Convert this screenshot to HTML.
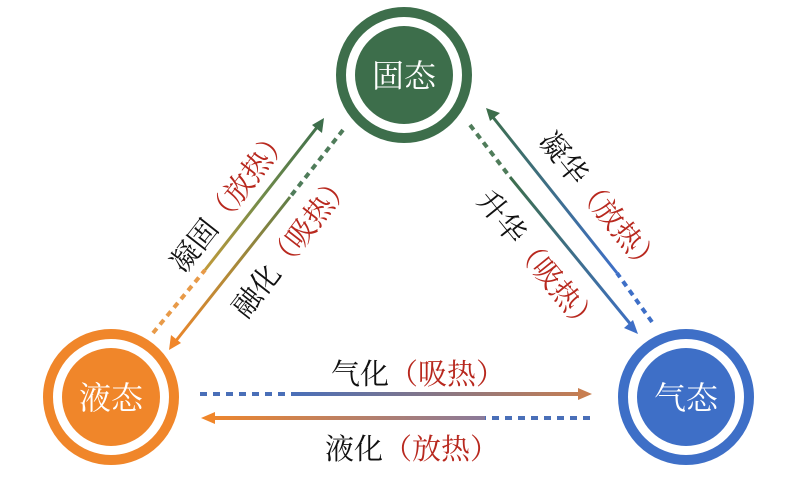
<!DOCTYPE html>
<html><head><meta charset="utf-8"><style>
html,body{margin:0;padding:0;background:#fff;}
svg{display:block;}
text{font-family:"Liberation Serif","Noto Serif CJK SC",serif;}
</style></head><body>
<svg width="797" height="482" viewBox="0 0 797 482" xmlns="http://www.w3.org/2000/svg">
<defs>
<linearGradient id="g1" gradientUnits="userSpaceOnUse" x1="205" y1="270" x2="323" y2="120"><stop offset="0" stop-color="#c09a3a"/><stop offset="0.5" stop-color="#6f8a4a"/><stop offset="1" stop-color="#3d6e4b"/></linearGradient>
<linearGradient id="g2" gradientUnits="userSpaceOnUse" x1="290" y1="197" x2="170" y2="348"><stop offset="0" stop-color="#5f7d47"/><stop offset="0.5" stop-color="#b08a38"/><stop offset="1" stop-color="#f0862a"/></linearGradient>
<linearGradient id="g3" gradientUnits="userSpaceOnUse" x1="617" y1="273" x2="487" y2="110"><stop offset="0" stop-color="#3e6fc7"/><stop offset="1" stop-color="#3d6e4b"/></linearGradient>
<linearGradient id="g4" gradientUnits="userSpaceOnUse" x1="510" y1="177" x2="637" y2="332"><stop offset="0" stop-color="#3d6e4b"/><stop offset="1" stop-color="#3e6fc7"/></linearGradient>
<linearGradient id="g5" gradientUnits="userSpaceOnUse" x1="293" y1="0" x2="590" y2="0"><stop offset="0" stop-color="#4a6fb8"/><stop offset="1" stop-color="#c87e50"/></linearGradient>
<linearGradient id="g6" gradientUnits="userSpaceOnUse" x1="203" y1="0" x2="485" y2="0"><stop offset="0" stop-color="#f0862a"/><stop offset="1" stop-color="#8a7a9a"/></linearGradient>
</defs>

<circle cx="404" cy="75" r="63" fill="none" stroke="#3d6e4b" stroke-width="10"/>
<circle cx="404" cy="75" r="49" fill="#3d6e4b"/>
<text x="404" y="87" font-size="32" fill="#fff" text-anchor="middle">固态</text>

<circle cx="111" cy="397" r="63" fill="none" stroke="#f0862a" stroke-width="10"/>
<circle cx="111" cy="397" r="49" fill="#f0862a"/>
<text x="111" y="409" font-size="32" fill="#fff" text-anchor="middle">液态</text>

<circle cx="686" cy="397" r="63" fill="none" stroke="#3e6fc7" stroke-width="10"/>
<circle cx="686" cy="397" r="49" fill="#3e6fc7"/>
<text x="686" y="409" font-size="32" fill="#fff" text-anchor="middle">气态</text>

<line x1="153" y1="333" x2="205" y2="270" stroke="#e89a48" stroke-width="4" stroke-dasharray="6 5"/>
<line x1="205" y1="270" x2="318" y2="126" stroke="url(#g1)" stroke-width="3"/>
<polygon points="324,118 322,133 312,125" fill="#3d6e4b"/>
<line x1="343" y1="130" x2="290" y2="197" stroke="#4f7c5a" stroke-width="4" stroke-dasharray="6 5"/>
<line x1="290" y1="197" x2="175" y2="342" stroke="url(#g2)" stroke-width="3"/>
<polygon points="169,350 171,335 181,343" fill="#f0862a"/>

<line x1="652" y1="322" x2="617" y2="273" stroke="#3e6fc7" stroke-width="4" stroke-dasharray="6 5"/>
<line x1="617" y1="273" x2="492" y2="116" stroke="url(#g3)" stroke-width="3"/>
<polygon points="486,108 500,113 490,121" fill="#3d6e4b"/>
<line x1="470" y1="125" x2="510" y2="177" stroke="#4f7c5a" stroke-width="4" stroke-dasharray="6 5"/>
<line x1="510" y1="177" x2="632" y2="326" stroke="url(#g4)" stroke-width="3"/>
<polygon points="638,334 624,328 633,320" fill="#3e6fc7"/>

<line x1="200" y1="394" x2="293" y2="394" stroke="#4a6fb8" stroke-width="4" stroke-dasharray="7 6"/>
<line x1="293" y1="394" x2="580" y2="394" stroke="url(#g5)" stroke-width="4"/>
<polygon points="592,394 578,388 578,400" fill="#c87e50"/>
<line x1="590" y1="418" x2="485" y2="418" stroke="#4a6fb8" stroke-width="4" stroke-dasharray="7 6"/>
<line x1="485" y1="418" x2="212" y2="418" stroke="url(#g6)" stroke-width="4"/>
<polygon points="201,418 215,412 215,424" fill="#f0862a"/>

<text x="331" y="384" font-size="29" fill="#111">气化<tspan fill="#b8281e">（吸热）</tspan></text>
<text x="325" y="459" font-size="29" fill="#111">液化<tspan fill="#b8281e">（放热）</tspan></text>

<text transform="translate(230,200) rotate(-52)" x="0" y="10" font-size="29" fill="#111" text-anchor="middle">凝固<tspan fill="#b8281e">（放热）</tspan></text>
<text transform="translate(292,245) rotate(-52)" x="0" y="10" font-size="29" fill="#111" text-anchor="middle">融化<tspan fill="#b8281e">（吸热）</tspan></text>
<text transform="translate(600,203) rotate(51)" x="0" y="10" font-size="29" fill="#111" text-anchor="middle">凝华<tspan fill="#b8281e">（放热）</tspan></text>
<text transform="translate(538,262) rotate(51)" x="0" y="10" font-size="29" fill="#111" text-anchor="middle">升华<tspan fill="#b8281e">（吸热）</tspan></text>
</svg>
</body></html>
